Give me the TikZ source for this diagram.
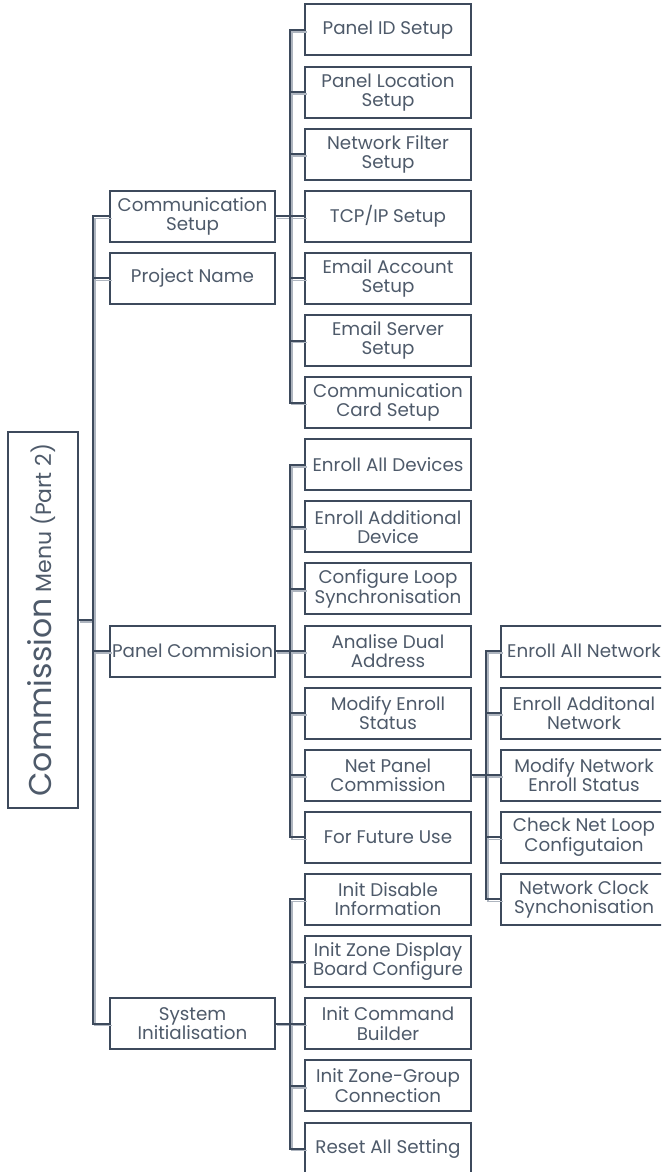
\documentclass[tikz,border=0pt]{standalone}
\usepackage{fontspec}
\setmainfont{Poppins}
\definecolor{dk}{HTML}{3D4A5C}
\definecolor{sh}{HTML}{AEB5BF}
\definecolor{tx}{HTML}{4E5A6A}
\newcommand\conn[5]{%
  \foreach \st in {shd,ln}{%
    \draw[\st] (#1.east) -- (#1.east -| #2) (#3.west -| #2) -- (#4.west -| #2);
    \foreach \c in {#5}{\draw[\st] (\c.west -| #2) -- (\c.west);}
  }}
\begin{document}
\begin{tikzpicture}[x=1pt,y=-1pt,
  box/.style={draw=dk,line width=2pt,fill=white,minimum height=51pt,inner sep=0pt,
    align=center,text=tx,font=\fontsize{18.3}{19.3}\selectfont},
  wa/.style={box,minimum width=165pt},
  wb/.style={box,minimum width=166pt},
  ln/.style={dk,line width=2pt,line cap=rect},
  shd/.style={sh,line width=1.6pt,line cap=rect,transform canvas={xshift=2pt,yshift=-2pt}}]
\useasboundingbox (0,0) rectangle (661,1172);
\clip (0,0) rectangle (661,1172);
% root
\node[draw=dk,line width=2pt,minimum width=70pt,minimum height=376pt,inner sep=0pt] (root) at (43,620) {};
\node[rotate=90,text=tx,inner sep=0pt] (roottext) at (42,620)
  {\fontsize{31.5}{34}\selectfont Commission\fontsize{22}{24}\selectfont\ Menu (Part 2)};
% level 1
\node[wa] (cs) at (192.5,216.3) {Communication\\Setup};
\node[wa] (pn) at (192.5,278.4) {Project Name};
\node[wa] (pc) at (192.5,651.0) {Panel Commision};
\node[wa] (si) at (192.5,1023.6) {System\\Initialisation};
% level 2: communication
\node[wb] (a0) at (388,30.0) {Panel ID Setup};
\node[wb] (a1) at (388,92.1) {Panel Location\\Setup};
\node[wb] (a2) at (388,154.2) {Network Filter\\Setup};
\node[wb] (a3) at (388,216.3) {TCP/IP Setup};
\node[wb] (a4) at (388,278.4) {Email Account\\Setup};
\node[wb] (a5) at (388,340.5) {Email Server\\Setup};
\node[wb] (a6) at (388,402.6) {Communication\\Card Setup};
% level 2: panel commision
\node[wb] (b0) at (388,464.7) {Enroll All Devices};
\node[wb] (b1) at (388,526.8) {Enroll Additional\\Device};
\node[wb] (b2) at (388,588.9) {Configure Loop\\Synchronisation};
\node[wb] (b3) at (388,651.0) {Analise Dual\\Address};
\node[wb] (b4) at (388,713.1) {Modify Enroll\\Status};
\node[wb] (b5) at (388,775.2) {Net Panel\\Commission};
\node[wb] (b6) at (388,837.3) {For Future Use};
% level 2: system init
\node[wb] (c0) at (388,899.4) {Init Disable\\Information};
\node[wb] (c1) at (388,961.5) {Init Zone Display\\Board Configure};
\node[wb] (c2) at (388,1023.6) {Init Command\\Builder};
\node[wb] (c3) at (388,1085.7) {Init Zone-Group\\Connection};
\node[wb] (c4) at (388,1148.5) {Reset All Setting};
% level 3
\node[wb] (d0) at (584,651.0) {Enroll All Network};
\node[wb] (d1) at (584,713.1) {Enroll Additonal\\Network};
\node[wb] (d2) at (584,775.2) {Modify Network\\Enroll Status};
\node[wb] (d3) at (584,837.3) {Check Net Loop\\Configutaion};
\node[wb] (d4) at (584,899.4) {Network Clock\\Synchonisation};
% trunks
\coordinate (t1) at (93,0);
\coordinate (t2) at (290,0);
\coordinate (t3) at (486,0);
\conn{root}{t1}{cs}{si}{cs,pn,pc,si}
\conn{cs}{t2}{a0}{a6}{a0,a1,a2,a3,a4,a5,a6}
\conn{pc}{t2}{b0}{b6}{b0,b1,b2,b3,b4,b5,b6}
\conn{si}{t2}{c0}{c4}{c0,c1,c2,c3,c4}
\conn{b5}{t3}{d0}{d4}{d0,d1,d2,d3,d4}
\end{tikzpicture}
\end{document}
